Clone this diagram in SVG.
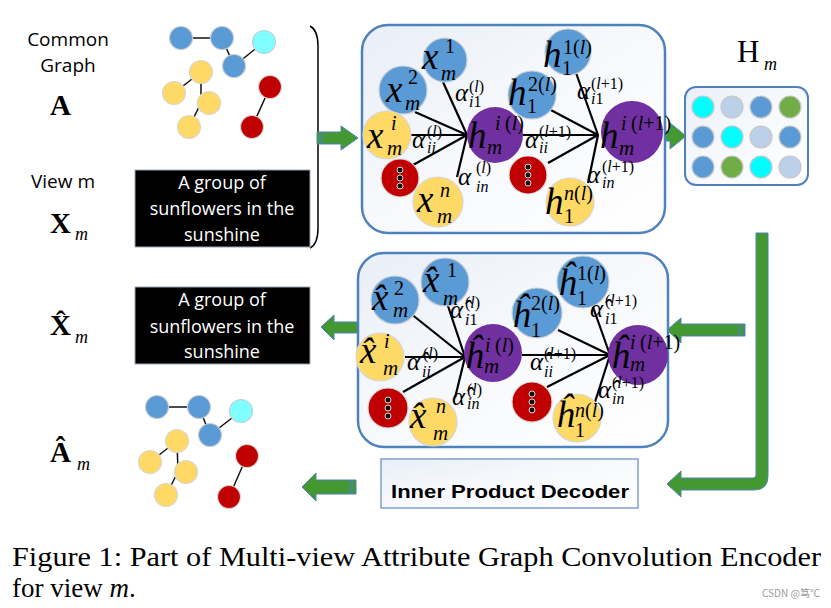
<svg xmlns="http://www.w3.org/2000/svg" width="831" height="608" viewBox="0 0 831 608">
<defs>
<linearGradient id="boxg" x1="0" y1="0" x2="1" y2="1">
<stop offset="0" stop-color="#e9eff8"/><stop offset="0.5" stop-color="#f7f9fc"/><stop offset="1" stop-color="#ffffff"/>
</linearGradient>
<style>
.bl{fill:#5b9bd5;stroke:#c8cdd4;stroke-width:1.2}
.cy{fill:#7fffff;stroke:#c8cdd4;stroke-width:1.2}
.ye{fill:#ffd966;stroke:#d6d6d6;stroke-width:1.2}
.rd{fill:#c00000;stroke:#d6d6d6;stroke-width:1.2}
.pu{fill:#7030a0;stroke:none}
.dot{fill:#111;stroke:#ddd;stroke-width:1}
.ge{stroke:#111;stroke-width:1.5;fill:none}
.ce{stroke:#000;stroke-width:2.2;fill:none}
.box{fill:url(#boxg);stroke:#4f81bd;stroke-width:2.5}
.arr{fill:#43982f;stroke:#4f81bd;stroke-width:1}
.stripe{stroke:#4f81bd;stroke-width:1;fill:none}
.m{font-family:'Liberation Serif',serif;font-style:italic;fill:#000}
.big{font-size:37px;font-style:italic}
.sp{font-size:20px;font-style:normal}
.spi{font-size:20px;font-style:italic}
.sb{font-size:21px;font-style:italic}
.it{font-style:italic}
.al{font-size:25px;font-style:italic}
.as{font-size:16px;font-style:normal}
.asi{font-size:16px;font-style:italic}
.lab{font-family:'Open Sans','Liberation Sans',sans-serif;font-size:19px;fill:#000;text-anchor:middle}
.wt{font-family:'Open Sans','Liberation Sans',sans-serif;font-size:18px;fill:#fff;text-anchor:middle}
.bold{font-family:'Liberation Serif',serif;font-weight:bold;font-size:29px;fill:#000}
.msub{font-size:18px;font-style:italic;font-weight:normal}
.cap{font-family:'Liberation Serif',serif;font-size:27px;fill:#000}
</style>
</defs>
<rect width="831" height="608" fill="#fff"/>

<g id="labels-left">
<text class="lab" x="68" y="46">Common</text>
<text class="lab" x="68" y="72">Graph</text>
<text class="bold" x="50" y="115">A</text>
<text class="lab" x="63" y="188">View m</text>
<text class="bold" x="50" y="233">X<tspan class="msub" x="75" y="240">m</tspan></text>
<text class="bold" x="50" y="335">X̂<tspan class="msub" x="75" y="343">m</tspan></text>
<text class="bold" x="50" y="462">Â<tspan class="msub" x="77" y="470">m</tspan></text>
</g>

<g id="connectors">
<line class="ge" x1="181" y1="38" x2="222" y2="38"/>
<line class="ge" x1="222" y1="38" x2="234" y2="66"/>
<line class="ge" x1="234" y1="66" x2="264" y2="42"/>
<line class="ge" x1="201" y1="72" x2="174" y2="93"/>
<line class="ge" x1="201" y1="72" x2="201" y2="103"/>
<line class="ge" x1="201" y1="103" x2="189" y2="127"/>
<line class="ge" x1="270" y1="87" x2="252" y2="127"/>
<line class="ge" x1="157" y1="407" x2="199" y2="407"/>
<line class="ge" x1="199" y1="407" x2="210" y2="435"/>
<line class="ge" x1="210" y1="435" x2="241" y2="411"/>
<line class="ge" x1="177" y1="441" x2="150" y2="462"/>
<line class="ge" x1="177" y1="441" x2="178" y2="472"/>
<line class="ge" x1="178" y1="472" x2="166" y2="495"/>
<line class="ge" x1="247" y1="456" x2="229" y2="497"/>
<path d="M310,26 Q318,30 318,46 L318,228 Q318,244 310,248" fill="none" stroke="#000" stroke-width="1.5"/>
<polygon class="arr" points="317,132 341,132 341,126 358,138 341,150 341,144 317,144"/>
<line class="stripe" x1="320" y1="132" x2="320" y2="144"/><line class="stripe" x1="322" y1="132" x2="322" y2="144"/>
<polygon class="arr" points="663,131 670,131 670,123 686,136 670,149 670,141 663,141"/>
<path class="arr" d="M756,233 L768,233 L768,476 Q768,490 754,490 L681,490 L681,497 L667,484 L681,471 L681,478 L753,478 Q756,478 756,475 Z"/>
<polygon class="arr" points="745,324 681,324 681,318 667,330 681,343 681,336 745,336"/>
<line class="stripe" x1="739" y1="324" x2="739" y2="336"/><line class="stripe" x1="742" y1="324" x2="742" y2="336"/>
<polygon class="arr" points="358,322 334,322 334,315 321,327 334,340 334,333 358,333"/>
<polygon class="arr" points="356,480 316,480 316,473 302,487 316,501 316,494 356,494"/>
<line class="stripe" x1="350" y1="480" x2="350" y2="494"/><line class="stripe" x1="352" y1="480" x2="352" y2="494"/>
</g>

<g id="graph-top">
<circle class="bl" cx="181" cy="38" r="11.5"/>
<circle class="bl" cx="222" cy="38" r="11.5"/>
<circle class="cy" cx="264" cy="42" r="11.5"/>
<circle class="bl" cx="234" cy="66" r="11.5"/>
<circle class="ye" cx="201" cy="72" r="11.5"/>
<circle class="ye" cx="174" cy="93" r="11.5"/>
<circle class="ye" cx="209" cy="103" r="11.5"/>
<circle class="ye" cx="189" cy="127" r="11.5"/>
<circle class="rd" cx="270" cy="87" r="11.5"/>
<circle class="rd" cx="252" cy="127" r="11.5"/>
</g>
<g id="graph-bottom">
<circle class="bl" cx="157" cy="407" r="11.5"/>
<circle class="bl" cx="199" cy="407" r="11.5"/>
<circle class="cy" cx="241" cy="411" r="11.5"/>
<circle class="bl" cx="210" cy="435" r="11.5"/>
<circle class="ye" cx="177" cy="441" r="11.5"/>
<circle class="ye" cx="150" cy="462" r="11.5"/>
<circle class="ye" cx="186" cy="472" r="11.5"/>
<circle class="ye" cx="166" cy="495" r="11.5"/>
<circle class="rd" cx="247" cy="456" r="11.5"/>
<circle class="rd" cx="229" cy="497" r="11.5"/>
</g>

<g id="text-top">
<rect x="135" y="170" width="175" height="77" fill="#000" stroke="#9aa6b5" stroke-width="1"/>
<text class="wt" x="222" y="189">A group of</text>
<text class="wt" x="222" y="215">sunflowers in the</text>
<text class="wt" x="222" y="241">sunshine</text>
</g>
<g id="text-bottom">
<rect x="135" y="287" width="175" height="77" fill="#000" stroke="#9aa6b5" stroke-width="1"/>
<text class="wt" x="222" y="306">A group of</text>
<text class="wt" x="222" y="333">sunflowers in the</text>
<text class="wt" x="222" y="358">sunshine</text>
</g>

<g id="encoder">
<rect class="box" x="362" y="25" width="303" height="208" rx="26"/>
<g class="edges">
<line class="ce" x1="443" y1="82" x2="467" y2="135"/>
<line class="ce" x1="415" y1="112" x2="467" y2="135"/>
<line class="ce" x1="410" y1="135" x2="467" y2="135"/>
<line class="ce" x1="413" y1="165" x2="467" y2="135"/>
<line class="ce" x1="457" y1="177" x2="467" y2="135"/>
<line class="ce" x1="522" y1="135" x2="598" y2="135"/>
<line class="ce" x1="575" y1="70" x2="598" y2="135"/>
<line class="ce" x1="547" y1="108" x2="598" y2="135"/>
<line class="ce" x1="548" y1="163" x2="598" y2="135"/>
<line class="ce" x1="588" y1="183" x2="598" y2="135"/>
</g>
<g id="enc-x1"><circle class="bl" cx="445" cy="60" r="22"/><text class="m big" x="422" y="69">x<tspan class="sp" x="445" y="53">1</tspan><tspan class="sb" x="441" y="80">m</tspan></text></g>
<g id="enc-x2"><circle class="bl" cx="403" cy="90" r="24"/><text class="m big" x="386" y="102">x<tspan class="sp" x="408" y="84">2</tspan><tspan class="sb" x="405" y="110">m</tspan></text></g>
<g id="enc-xi"><circle class="ye" cx="387" cy="135" r="24"/><text class="m big" x="367" y="148">x<tspan class="spi" x="391" y="130">i</tspan><tspan class="sb" x="387" y="155">m</tspan></text></g>
<g id="enc-r1"><circle class="rd" cx="400" cy="178" r="19"/><circle class="dot" cx="400" cy="170" r="3"/><circle class="dot" cx="400" cy="178" r="3"/><circle class="dot" cx="400" cy="186" r="3"/></g>
<g id="enc-xn"><circle class="ye" cx="438" cy="202" r="25"/><text class="m big" x="417" y="212">x<tspan class="spi" x="440" y="197">n</tspan><tspan class="sb" x="437" y="223">m</tspan></text></g>
<g id="enc-h"><circle class="pu" cx="495" cy="135" r="28"/><text class="m big" x="468" y="148">h<tspan class="spi" x="495" y="130">i</tspan><tspan class="sp" x="505" y="130">(<tspan class="it">l</tspan>)</tspan><tspan class="sb" x="487" y="154">m</tspan></text></g>
<g id="enc-h2"><circle class="bl" cx="532" cy="95" r="24"/><text class="m big" x="508" y="105">h<tspan class="sp" x="528" y="91">2(<tspan class="it">l</tspan>)</tspan><tspan class="sp" x="527" y="113">1</tspan></text></g>
<g id="enc-h1"><circle class="bl" cx="568" cy="52" r="23"/><text class="m big" x="543" y="67">h<tspan class="sp" x="563" y="54">1(<tspan class="it">l</tspan>)</tspan><tspan class="sp" x="562" y="75">1</tspan></text></g>
<g id="enc-r2"><circle class="rd" cx="528" cy="175" r="19"/><circle class="dot" cx="528" cy="167" r="3"/><circle class="dot" cx="528" cy="175" r="3"/><circle class="dot" cx="528" cy="183" r="3"/></g>
<g id="enc-hn"><circle class="ye" cx="570" cy="202" r="24"/><text class="m big" x="545" y="214">h<tspan class="sp" x="564" y="200"><tspan class="it">n</tspan>(<tspan class="it">l</tspan>)</tspan><tspan class="sp" x="564" y="223">1</tspan></text></g>
<g id="enc-hl1"><circle class="pu" cx="632" cy="132" r="31"/><text class="m big" x="600" y="148">h<tspan class="spi" x="621" y="130">i</tspan><tspan class="sp" x="631" y="130">(<tspan class="it">l</tspan>+1)</tspan><tspan class="sb" x="619" y="155">m</tspan></text></g>
<g id="enc-alpha" class="m">
<text class="al" x="455" y="101">α<tspan class="as" x="469" y="92">(<tspan class="it">l</tspan>)</tspan><tspan class="asi" x="469" y="107">i<tspan font-style="normal">1</tspan></tspan></text>
<text class="al" x="412" y="148">α<tspan class="as" x="427" y="137">(<tspan class="it">l</tspan>)</tspan><tspan class="asi" x="427" y="153">ii</tspan></text>
<text class="al" x="458" y="185">α<tspan class="as" x="476" y="173">(<tspan class="it">l</tspan>)</tspan><tspan class="asi" x="476" y="192">in</tspan></text>
<text class="al" x="577" y="99">α<tspan class="as" x="591" y="89">(<tspan class="it">l</tspan>+1)</tspan><tspan class="asi" x="591" y="104">i<tspan font-style="normal">1</tspan></tspan></text>
<text class="al" x="525" y="148">α<tspan class="as" x="539" y="137">(<tspan class="it">l</tspan>+1)</tspan><tspan class="asi" x="539" y="153">ii</tspan></text>
<text class="al" x="587" y="183">α<tspan class="as" x="602" y="172">(<tspan class="it">l</tspan>+1)</tspan><tspan class="asi" x="602" y="188">in</tspan></text>
</g>
</g>

<g id="Hm">
<text x="737" y="62" font-family="'Liberation Serif',serif" font-size="31">H<tspan class="msub" x="764" y="70">m</tspan></text>
<rect x="685" y="87" width="123" height="98" rx="11" fill="url(#boxg)" stroke="#4f81bd" stroke-width="2"/>
<g stroke="#c8c8c8" stroke-width="1.2">
<circle cx="703" cy="107" r="11" fill="#00ffff"/><circle cx="732" cy="107" r="11" fill="#bdd0e9"/><circle cx="761" cy="107" r="11" fill="#5b9bd5"/><circle cx="790" cy="107" r="11" fill="#70ad47"/>
<circle cx="703" cy="137" r="11" fill="#5b9bd5"/><circle cx="732" cy="137" r="11" fill="#00ffff"/><circle cx="761" cy="137" r="11" fill="#bdd0e9"/><circle cx="790" cy="137" r="11" fill="#5b9bd5"/>
<circle cx="703" cy="167" r="11" fill="#5b9bd5"/><circle cx="732" cy="167" r="11" fill="#70ad47"/><circle cx="761" cy="167" r="11" fill="#00ffff"/><circle cx="790" cy="167" r="11" fill="#bdd0e9"/>
</g>
</g>

<g id="decoder">
<rect class="box" x="358" y="253" width="310" height="194" rx="26"/>
<g class="edges">
<line class="ce" x1="410" y1="313" x2="465" y2="357"/>
<line class="ce" x1="447" y1="303" x2="465" y2="357"/>
<line class="ce" x1="405" y1="357" x2="465" y2="357"/>
<line class="ce" x1="403" y1="392" x2="465" y2="357"/>
<line class="ce" x1="455" y1="398" x2="465" y2="357"/>
<line class="ce" x1="522" y1="355" x2="610" y2="355"/>
<line class="ce" x1="558" y1="330" x2="610" y2="355"/>
<line class="ce" x1="593" y1="307" x2="610" y2="355"/>
<line class="ce" x1="547" y1="387" x2="610" y2="355"/>
<line class="ce" x1="595" y1="402" x2="610" y2="355"/>
</g>
<g id="dec-x2"><circle class="bl" cx="395" cy="300" r="24"/><text class="m big" x="372" y="310">x̂<tspan class="sp" x="394" y="295">2</tspan><tspan class="sb" x="393" y="317">m</tspan></text></g>
<g id="dec-x1"><circle class="bl" cx="445" cy="282" r="24"/><text class="m big" x="423" y="292">x̂<tspan class="sp" x="447" y="277">1</tspan><tspan class="sb" x="443" y="305">m</tspan></text></g>
<g id="dec-xi"><circle class="ye" cx="380" cy="357" r="24"/><text class="m big" x="360" y="363">x̂<tspan class="spi" x="384" y="348">i</tspan><tspan class="sb" x="383" y="375">m</tspan></text></g>
<g id="dec-r1"><circle class="rd" cx="388" cy="408" r="20"/><circle class="dot" cx="388" cy="400" r="3"/><circle class="dot" cx="388" cy="408" r="3"/><circle class="dot" cx="388" cy="416" r="3"/></g>
<g id="dec-xn"><circle class="ye" cx="433" cy="422" r="24"/><text class="m big" x="410" y="428">x̂<tspan class="spi" x="436" y="413">n</tspan><tspan class="sb" x="433" y="440">m</tspan></text></g>
<g id="dec-h"><circle class="pu" cx="493" cy="353" r="29"/><text class="m big" x="465" y="368">ĥ<tspan class="spi" x="485" y="352">i</tspan><tspan class="sp" x="495" y="352">(<tspan class="it">l</tspan>)</tspan><tspan class="sb" x="484" y="373">m</tspan></text></g>
<g id="dec-h2"><circle class="bl" cx="537" cy="313" r="25"/><text class="m big" x="512" y="327">ĥ<tspan class="sp" x="531" y="310">2(<tspan class="it">l</tspan>)</tspan><tspan class="sp" x="531" y="337">1</tspan></text></g>
<g id="dec-h1"><circle class="bl" cx="583" cy="282" r="26"/><text class="m big" x="558" y="295">ĥ<tspan class="sp" x="577" y="280">1(<tspan class="it">l</tspan>)</tspan><tspan class="sp" x="577" y="305">1</tspan></text></g>
<g id="dec-r2"><circle class="rd" cx="532" cy="402" r="20"/><circle class="dot" cx="532" cy="394" r="3"/><circle class="dot" cx="532" cy="402" r="3"/><circle class="dot" cx="532" cy="410" r="3"/></g>
<g id="dec-hn"><circle class="ye" cx="577" cy="418" r="24"/><text class="m big" x="556" y="427">ĥ<tspan class="sp" x="575" y="417"><tspan class="it">n</tspan>(<tspan class="it">l</tspan>)</tspan><tspan class="sp" x="575" y="437">1</tspan></text></g>
<g id="dec-hl1"><circle class="pu" cx="638" cy="355" r="30"/><text class="m big" x="611" y="368">ĥ<tspan class="spi" x="630" y="349">i</tspan><tspan class="sp" x="640" y="349">(<tspan class="it">l</tspan>+1)</tspan><tspan class="sb" x="630" y="371">m</tspan></text></g>
<g id="dec-alpha" class="m">
<text class="al" x="450" y="318">α̂<tspan class="as" x="465" y="308">(<tspan class="it">l</tspan>)</tspan><tspan class="asi" x="465" y="325">i<tspan font-style="normal">1</tspan></tspan></text>
<text class="al" x="407" y="370">α̂<tspan class="as" x="423" y="359">(<tspan class="it">l</tspan>)</tspan><tspan class="asi" x="422" y="377">ii</tspan></text>
<text class="al" x="452" y="405">α̂<tspan class="as" x="467" y="395">(<tspan class="it">l</tspan>)</tspan><tspan class="asi" x="467" y="409">in</tspan></text>
<text class="al" x="590" y="317">α̂<tspan class="as" x="605" y="306">(<tspan class="it">l</tspan>+1)</tspan><tspan class="asi" x="605" y="324">i<tspan font-style="normal">1</tspan></tspan></text>
<text class="al" x="530" y="370">α̂<tspan class="as" x="544" y="359">(<tspan class="it">l</tspan>+1)</tspan><tspan class="asi" x="544" y="377">ii</tspan></text>
<text class="al" x="598" y="398">α̂<tspan class="as" x="612" y="388">(<tspan class="it">l</tspan>+1)</tspan><tspan class="asi" x="612" y="404">in</tspan></text>
</g>
</g>

<g id="ipd">
<rect x="381" y="459" width="257" height="49" fill="url(#boxg)" stroke="#7f9fcf" stroke-width="1.5"/>
<text x="510" y="498" text-anchor="middle" font-family="'Liberation Sans',Arial,sans-serif" font-weight="bold" font-size="19" textLength="238" lengthAdjust="spacingAndGlyphs">Inner Product Decoder</text>
</g>

<g id="caption">
<text class="cap" x="12" y="566" textLength="809" lengthAdjust="spacingAndGlyphs">Figure 1: Part of Multi-view Attribute Graph Convolution Encoder</text>
<text class="cap" x="12" y="597">for view <tspan class="it">m</tspan>.</text>
<text x="762" y="597" font-family="'Noto Sans CJK SC','Liberation Sans',sans-serif" font-size="10" fill="#9a9a9a">CSDN @笃℃</text>
</g>
</svg>
